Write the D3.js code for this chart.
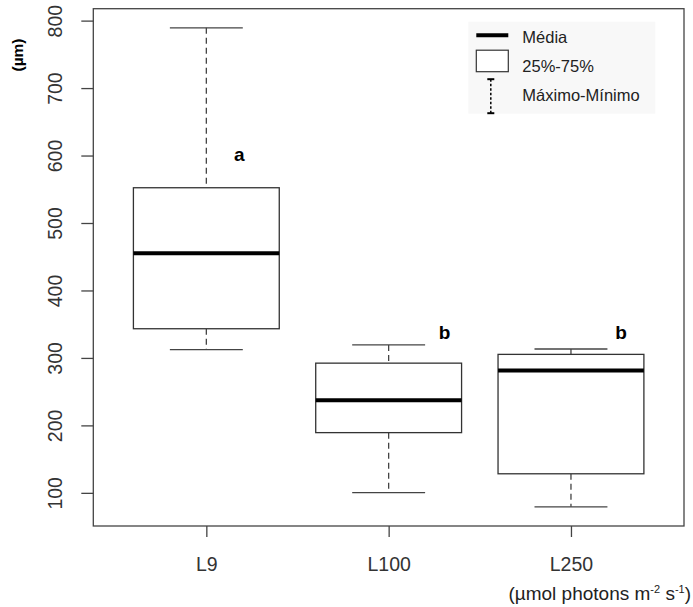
<!DOCTYPE html>
<html>
<head>
<meta charset="utf-8">
<script src="https://cdn.jsdelivr.net/npm/d3@7"></script>
<style>
  body { margin: 0; background: #fff; }
  text { font-family: "Liberation Sans", Arial, sans-serif; }
</style>
</head>
<body>
<div id="chart"></div>
<script>
// Box summaries (µm)
var groups  = ["L9", "L100", "L250"];
var maxs    = [790, 320, 314];
var q3s     = [553, 293, 306];
var medians = [456, 238, 282];
var q1s     = [344, 190, 129];
var mins    = [313, 101, 80];
var letters = ["a", "b", "b"];
var legendLabels = ["Média", "25%-75%", "Máximo-Mínimo"];

var width = 693, height = 607;
var margin = {top: 8.7, right: 9, bottom: 81, left: 93.3};
var plotW = width - margin.left - margin.right,
    plotH = height - margin.top - margin.bottom;

var data = groups.map(function(g, i) {
  return {name: g, max: maxs[i], q3: q3s[i], med: medians[i], q1: q1s[i], min: mins[i], letter: letters[i]};
});

// R style: data range extended by 4%
var lo = d3.min(mins), hi = d3.max(maxs), pad = (hi - lo) * 0.04;
var yScale = d3.scaleLinear().domain([lo - pad, hi + pad]).range([plotH, 0]);
var xScale = d3.scalePoint().domain(groups).range([0, plotW]).padding(0.62);
var step = xScale.step(), boxW = step * 0.8, capW = step * 0.4;

var svg = d3.select("#chart").append("svg")
    .attr("width", width)
    .attr("height", height);
var g = svg.append("g")
    .attr("transform", "translate(" + margin.left + "," + margin.top + ")");

// frame
g.append("rect")
    .attr("width", plotW).attr("height", plotH)
    .attr("fill", "none").attr("stroke", "#444").attr("stroke-width", 1.3);

// legend background
g.append("rect")
    .attr("x", 375).attr("y", 13).attr("width", 187).attr("height", 92)
    .attr("fill", "#f8f8f8");

// y axis
var yAxis = d3.axisLeft(yScale).tickValues([100, 200, 300, 400, 500, 600, 700, 800])
    .tickSize(12).tickPadding(0).tickFormat(d3.format("d"));
var ya = g.append("g").call(yAxis);
ya.select(".domain").remove();
ya.selectAll("line").attr("stroke", "#444").attr("stroke-width", 1.3);
ya.selectAll("text")
    .attr("x", null).attr("dy", null)
    .attr("transform", function(d) { return "translate(-31," + yScale(d) + ") rotate(-90)"; })
    .attr("y", 0)
    .attr("text-anchor", "middle")
    .attr("fill", "#333")
    .style("font-size", "19.5px");
ya.selectAll(".tick").attr("transform", null);
ya.selectAll(".tick line").attr("transform", function(d) { return "translate(0," + yScale(d) + ")"; });

// x axis
var xAxis = d3.axisBottom(xScale).tickSize(11).tickPadding(20);
var xa = g.append("g").attr("transform", "translate(0," + plotH + ")").call(xAxis);
xa.select(".domain").remove();
xa.selectAll("line").attr("stroke", "#444").attr("stroke-width", 1.3);
xa.selectAll("text").attr("fill", "#333").style("font-size", "19.5px");

// boxes
var box = g.selectAll(".box").data(data).enter().append("g")
    .attr("class", "box")
    .attr("transform", function(d) { return "translate(" + xScale(d.name) + ",0)"; });

box.append("line")
    .attr("y1", function(d) { return yScale(d.max); })
    .attr("y2", function(d) { return yScale(d.q3); })
    .attr("stroke", "#444").attr("stroke-width", 1.3).attr("stroke-dasharray", "6,4");
box.append("line")
    .attr("y1", function(d) { return yScale(d.q1); })
    .attr("y2", function(d) { return yScale(d.min); })
    .attr("stroke", "#444").attr("stroke-width", 1.3).attr("stroke-dasharray", "6,4");
box.append("line")
    .attr("x1", -capW / 2).attr("x2", capW / 2)
    .attr("y1", function(d) { return yScale(d.max); })
    .attr("y2", function(d) { return yScale(d.max); })
    .attr("stroke", "#444").attr("stroke-width", 1.3);
box.append("line")
    .attr("x1", -capW / 2).attr("x2", capW / 2)
    .attr("y1", function(d) { return yScale(d.min); })
    .attr("y2", function(d) { return yScale(d.min); })
    .attr("stroke", "#444").attr("stroke-width", 1.3);
box.append("rect")
    .attr("x", -boxW / 2).attr("width", boxW)
    .attr("y", function(d) { return yScale(d.q3); })
    .attr("height", function(d) { return yScale(d.q1) - yScale(d.q3); })
    .attr("fill", "#fff").attr("stroke", "#333").attr("stroke-width", 1.3);
box.append("line")
    .attr("x1", -boxW / 2).attr("x2", boxW / 2)
    .attr("y1", function(d) { return yScale(d.med); })
    .attr("y2", function(d) { return yScale(d.med); })
    .attr("stroke", "#000").attr("stroke-width", 4);

// significance letters: "a" sits beside the upper whisker, "b" just above the whiskers
box.append("text")
    .attr("x", function(d, i) { return i == 0 ? 33 : (i == 1 ? 56 : 50); })
    .attr("y", function(d, i) { return i == 0 ? yScale(592) : yScale(329); })
    .attr("text-anchor", "middle")
    .style("font-size", "19px").style("font-weight", "bold")
    .text(function(d) { return d.letter; });

// legend
var lg = g.append("g").attr("transform", "translate(383,0)");
lg.append("line").attr("x1", 0).attr("x2", 32).attr("y1", 26.5).attr("y2", 26.5)
    .attr("stroke", "#000").attr("stroke-width", 4);
lg.append("rect").attr("x", 0).attr("y", 41.5).attr("width", 32).attr("height", 21.5)
    .attr("fill", "#fff").attr("stroke", "#333").attr("stroke-width", 1.2);
lg.append("line").attr("x1", 14.5).attr("x2", 14.5).attr("y1", 70.5).attr("y2", 104.5)
    .attr("stroke", "#000").attr("stroke-width", 1.5).attr("stroke-dasharray", "2.5,2");
lg.selectAll(".cap").data([70.5, 104.5]).enter().append("line")
    .attr("x1", 11).attr("x2", 18).attr("y1", function(d) { return d; }).attr("y2", function(d) { return d; })
    .attr("stroke", "#000").attr("stroke-width", 2);
lg.selectAll(".lt").data(legendLabels).enter().append("text")
    .attr("x", 46)
    .attr("y", function(d, i) { return [34, 63, 92.5][i]; })
    .attr("fill", "#222")
    .style("font-size", "16.5px")
    .text(function(d) { return d; });

// axis titles
svg.append("text")
    .attr("transform", "translate(23,55) rotate(-90)")
    .attr("text-anchor", "middle")
    .style("font-size", "15.5px").style("font-weight", "bold")
    .text("(µm)");

var xt = svg.append("text")
    .attr("x", 691).attr("y", 600)
    .attr("text-anchor", "end")
    .attr("fill", "#222")
    .style("font-size", "19px");
xt.append("tspan").text("(µmol photons m");
xt.append("tspan").attr("dy", -7).style("font-size", "11px").text("-2");
xt.append("tspan").attr("dy", 7).text(" s");
xt.append("tspan").attr("dy", -7).style("font-size", "11px").text("-1");
xt.append("tspan").attr("dy", 7).text(")");
</script>
</body>
</html>
